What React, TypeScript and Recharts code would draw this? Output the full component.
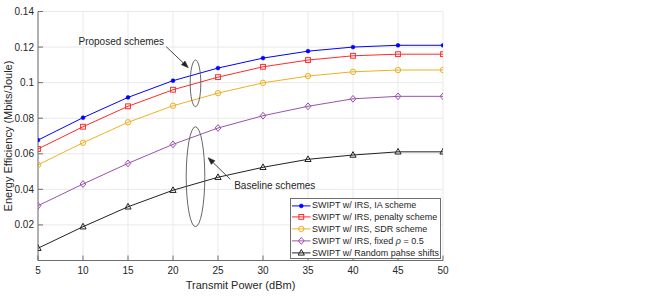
import React from 'react';
import {
  LineChart,
  Line,
  XAxis,
  YAxis,
  CartesianGrid,
  Legend,
  ReferenceDot,
  ReferenceLine,
} from 'recharts';

// ---------- data ----------
const powers = [5, 10, 15, 20, 25, 30, 35, 40, 45, 50];
const iaScheme = [0.0677, 0.0803, 0.0917, 0.1011, 0.1082, 0.1138, 0.1177, 0.12, 0.121, 0.121];
const penaltyScheme = [0.0627, 0.0752, 0.0867, 0.096, 0.1031, 0.1089, 0.1127, 0.1151, 0.116, 0.116];
const sdrScheme = [0.0538, 0.0662, 0.0777, 0.087, 0.0941, 0.0999, 0.1037, 0.1061, 0.1071, 0.1071];
const fixedRho = [0.0308, 0.043, 0.0546, 0.0653, 0.0745, 0.0814, 0.0867, 0.0909, 0.0923, 0.0923];
const randomPhase = [0.0069, 0.019, 0.0302, 0.0395, 0.0468, 0.0524, 0.0569, 0.0593, 0.0611, 0.0611];
const xTicks = [5, 10, 15, 20, 25, 30, 35, 40, 45, 50];
const yTicks = [0.02, 0.04, 0.06, 0.08, 0.1, 0.12, 0.14];

const data = powers.map((p, i) => ({
  p,
  ia: iaScheme[i],
  pen: penaltyScheme[i],
  sdr: sdrScheme[i],
  fix: fixedRho[i],
  rnd: randomPhase[i],
}));

type Kind = 'dot' | 'square' | 'circle' | 'diamond' | 'triangle';

const series: { key: string; color: string; kind: Kind; label: React.ReactNode }[] = [
  { key: 'ia', color: '#0000ff', kind: 'dot', label: 'SWIPT w/ IRS, IA scheme' },
  { key: 'pen', color: '#ff2a2a', kind: 'square', label: 'SWIPT w/ IRS, penalty scheme' },
  { key: 'sdr', color: '#EDB120', kind: 'circle', label: 'SWIPT w/ IRS, SDR scheme' },
  {
    key: 'fix',
    color: '#9a52b0',
    kind: 'diamond',
    label: (
      <>
        SWIPT w/ IRS, fixed <i>ρ</i> = 0.5
      </>
    ),
  },
  { key: 'rnd', color: '#222222', kind: 'triangle', label: 'SWIPT w/ Random pahse shifts' },
];

const FONT = '"Liberation Sans", Arial, Helvetica, sans-serif';
const TEXT = '#262626';
const AXIS = '#6e6e6e';

function Marker({ kind, cx, cy, color }: { kind: Kind; cx: number; cy: number; color: string }) {
  if (cx == null || cy == null) return null;
  switch (kind) {
    case 'dot':
      return <circle cx={cx} cy={cy} r={1.9} fill={color} stroke={color} strokeWidth={0.6} />;
    case 'square':
      return <rect x={cx - 2.4} y={cy - 2.4} width={4.8} height={4.8} fill="none" stroke={color} strokeWidth={1} />;
    case 'circle':
      return <circle cx={cx} cy={cy} r={2.7} fill="none" stroke={color} strokeWidth={1} />;
    case 'diamond':
      return (
        <polygon
          points={`${cx},${cy - 3.4} ${cx + 2.9},${cy} ${cx},${cy + 3.4} ${cx - 2.9},${cy}`}
          fill="none"
          stroke={color}
          strokeWidth={1}
        />
      );
    case 'triangle':
      return (
        <polygon
          points={`${cx},${cy - 3.4} ${cx + 3.1},${cy + 2.2} ${cx - 3.1},${cy + 2.2}`}
          fill="none"
          stroke={color}
          strokeWidth={1}
        />
      );
  }
  return null;
}

const Arrow = (p: any) => {
  const { x1, y1, x2, y2 } = p;
  const a = Math.atan2(y2 - y1, x2 - x1);
  const L = 7;
  const W = 2.6;
  const bx = x2 - L * Math.cos(a);
  const by = y2 - L * Math.sin(a);
  const px = -Math.sin(a) * W;
  const py = Math.cos(a) * W;
  return (
    <g>
      <line x1={x1} y1={y1} x2={bx} y2={by} stroke="#333" strokeWidth={0.9} />
      <polygon points={`${x2},${y2} ${bx + px},${by + py} ${bx - px},${by - py}`} fill="#222" stroke="#222" strokeWidth={0.5} />
    </g>
  );
};

const ellipseShape = (rx: number, ry: number) => (p: any) =>
  <ellipse cx={p.cx} cy={p.cy} rx={rx} ry={ry} fill="none" stroke="#555" strokeWidth={0.9} />;

const textShape = (s: string) => (p: any) =>
  (
    <text x={p.cx} y={p.cy} dominantBaseline="central" fontSize={10} fill={TEXT} style={{ fontFamily: FONT }}>
      {s}
    </text>
  );

const LegendBox = () => (
  <div
    style={{
      border: `1px solid ${AXIS}`,
      background: '#fff',
      boxSizing: 'border-box',
      width: 151,
      height: 61,
      paddingTop: 0.5,
      fontFamily: FONT,
      fontSize: 9,
      color: TEXT,
    }}
  >
    {series.map((s) => (
      <div key={s.key} style={{ display: 'flex', alignItems: 'center', height: 11.8, whiteSpace: 'nowrap' }}>
        <svg width={21} height={11.8} style={{ flex: 'none' }}>
          <line x1={1} x2={19.5} y1={5.9} y2={5.9} stroke={s.color} strokeWidth={1} />
          <Marker kind={s.kind} cx={10.3} cy={5.9} color={s.color} />
        </svg>
        <span>{s.label}</span>
      </div>
    ))}
  </div>
);

export default function App() {
  return (
    <div style={{ position: 'absolute', left: 0, top: 0, width: 654, height: 300, background: '#fff' }}>
      <LineChart
        width={654}
        height={300}
        data={data}
        margin={{ top: 11.5, right: 211, bottom: 9.5, left: 0 }}
        style={{ fontFamily: FONT }}
      >
        <CartesianGrid stroke="#e9e9e9" strokeWidth={1} />
        <XAxis
          dataKey="p"
          type="number"
          domain={[5, 50]}
          ticks={xTicks}
          allowDataOverflow
          height={30}
          stroke={AXIS}
          tickSize={-5}
          tickMargin={11.5}
          tick={{ fill: TEXT, fontSize: 10 }}
          label={{ value: 'Transmit Power (dBm)', position: 'insideTop', offset: 21, fontSize: 11, fill: TEXT }}
        />
        <XAxis
          xAxisId="top"
          orientation="top"
          type="number"
          domain={[5, 50]}
          ticks={xTicks}
          allowDataOverflow
          height={0}
          stroke={AXIS}
          tickSize={-5}
          tick={false}
        />
        <YAxis
          type="number"
          domain={[0, 0.14]}
          ticks={yTicks}
          allowDataOverflow
          width={38}
          stroke={AXIS}
          tickSize={-5}
          tickMargin={9}
          tick={{ fill: TEXT, fontSize: 10 }}
          tickFormatter={(v: number) => String(+v.toFixed(2))}
          label={{
            value: 'Energy Efficiency (Mbits/Joule)',
            angle: -90,
            position: 'center',
            dx: -11,
            fontSize: 11,
            fill: TEXT,
          }}
        />
        <YAxis
          yAxisId="r"
          orientation="right"
          type="number"
          domain={[0, 0.14]}
          ticks={yTicks}
          allowDataOverflow
          width={0}
          stroke={AXIS}
          tickSize={-5}
          tick={false}
        />
        {series.map((s) => (
          <Line
            key={s.key}
            dataKey={s.key}
            type="linear"
            stroke={s.color}
            strokeWidth={1}
            isAnimationActive={false}
            dot={(props: any) => (
              <Marker key={`${s.key}-${props.index}`} kind={s.kind} cx={props.cx} cy={props.cy} color={s.color} />
            )}
            activeDot={false}
          />
        ))}
        <ReferenceDot x={22.5} y={0.0996} r={0} ifOverflow="visible" shape={ellipseShape(5.3, 23.3)} />
        <ReferenceDot x={22.5} y={0.0471} r={0} ifOverflow="visible" shape={ellipseShape(9.3, 50)} />
        <ReferenceDot x={9.5} y={0.123} r={0} ifOverflow="visible" shape={textShape('Proposed schemes')} />
        <ReferenceDot x={26.8} y={0.0419} r={0} ifOverflow="visible" shape={textShape('Baseline schemes')} />
        <ReferenceLine
          segment={[
            { x: 19.25, y: 0.1202 },
            { x: 21.7, y: 0.1084 },
          ]}
          ifOverflow="visible"
          shape={Arrow}
        />
        <ReferenceLine
          segment={[
            { x: 26.37, y: 0.0456 },
            { x: 23.9, y: 0.0578 },
          ]}
          ifOverflow="visible"
          shape={Arrow}
        />
        <Legend
          layout="vertical"
          align="center"
          verticalAlign="middle"
          wrapperStyle={{ left: 290, top: 198, width: 151, height: 61 }}
          content={() => <LegendBox />}
        />
      </LineChart>
    </div>
  );
}
